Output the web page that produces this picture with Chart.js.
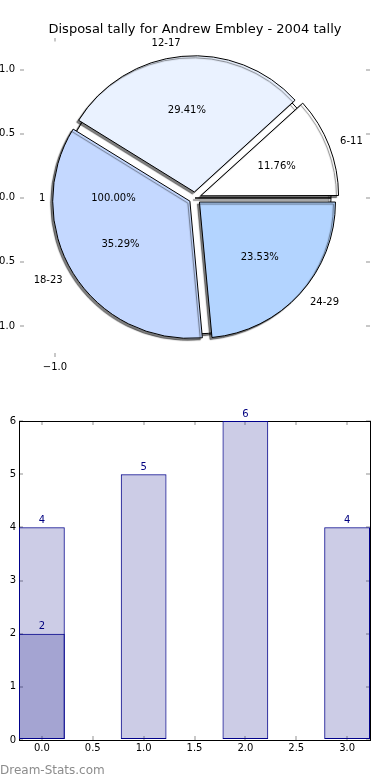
<!DOCTYPE html>
<html>
<head>
<meta charset="utf-8">
<script src="https://cdn.jsdelivr.net/npm/chart.js@4.4.1/dist/chart.umd.min.js"></script>
<style>
  html, body { margin: 0; padding: 0; background: #fff; overflow: hidden; }
  #wrap { position: relative; width: 390px; height: 780px; overflow: hidden; }
  canvas { position: absolute; }
  #mark { position: absolute; left: 0; top: 763px; font: 12px "DejaVu Sans", sans-serif; color: #8c8c8c; line-height: 14px; }
</style>
</head>
<body>
<div id="wrap">
  <canvas id="pieAxes" width="414" height="390" style="left:-12px;top:0"></canvas>
  <canvas id="pieBase" width="390" height="390" style="left:0;top:0"></canvas>
  <canvas id="pieFront" width="390" height="390" style="left:0;top:0"></canvas>
  <canvas id="bars" width="390" height="390" style="left:0;top:390px"></canvas>
  <div id="mark">Dream-Stats.com</div>
</div>
<script>
// pie data (matplotlib order, counter-clockwise from 3 o'clock)
var pieTitle = 'Disposal tally for Andrew Embley - 2004 tally';
var pieLabels = ['6-11', '12-17', '18-23', '24-29'];
var pieCounts = [2, 5, 6, 4];
var baseLabels = ['1'];
var baseCounts = [1];
var pieYTicks = [1.0, 0.5, 0.0, -0.5, -1.0];
var pieXTicks = [-1.0];

// bar data
var barX = [0, 1, 2, 3];
var barTotals = [4, 5, 6, 4];
var barX2 = [0];
var barFirst = [2];
var barXTicks = [0, 0.5, 1, 1.5, 2, 2.5, 3];
var barYTicks = [0, 1, 2, 3, 4, 5, 6];

var pieColors = ['#ffffff', '#eaf2ff', '#c4d8ff', '#b3d4ff'];
var tickGrey = '#c8c8c8';

Chart.defaults.font.family = '"DejaVu Sans", sans-serif';
Chart.defaults.font.size = 10;
Chart.defaults.color = '#000';

function fmt(v) {
    return Number(v).toFixed(1).replace('-', '\u2212');
}
function fixTicks(list) {
    return function (axis) { axis.ticks = list.map(function (v) { return {value: v}; }); };
}
function tickGrid() {
    return {drawOnChartArea: false, tickLength: -4, color: tickGrey, lineWidth: 2, offset: false};
}

// --- axes behind the pie (matplotlib leaves them on) ---
new Chart(document.getElementById('pieAxes'), {
    type: 'scatter',
    data: {datasets: []},
    options: {
        responsive: false, animation: false, events: [],
        layout: {padding: 0},
        plugins: {
            legend: {display: false}, tooltip: {enabled: false},
            title: {display: true, text: pieTitle, color: '#000',
                font: {size: 13, weight: 'normal'}, padding: {top: 22, bottom: 0}}
        },
        scales: {
            x: {type: 'linear', position: 'bottom', min: -1.25, max: 1.25,
                afterBuildTicks: fixTicks(pieXTicks), afterFit: function (s) { s.height = 33; },
                ticks: {callback: fmt, padding: 8, autoSkip: false, maxRotation: 0},
                grid: tickGrid(), border: {display: false}},
            x2: {type: 'linear', position: 'top', min: -1.25, max: 1.25,
                afterBuildTicks: fixTicks(pieXTicks), afterFit: function (s) { s.height = 0; },
                ticks: {display: false}, grid: tickGrid(), border: {display: false}},
            y: {type: 'linear', position: 'left', min: -1.242, max: 1.25,
                afterBuildTicks: fixTicks(pieYTicks), afterFit: function (s) { s.width = 32; },
                ticks: {callback: fmt, padding: 9, autoSkip: false},
                grid: tickGrid(), border: {display: false}},
            y2: {type: 'linear', position: 'right', min: -1.242, max: 1.25,
                afterBuildTicks: fixTicks(pieYTicks), afterFit: function (s) { s.width = 32; },
                ticks: {display: false}, grid: tickGrid(), border: {display: false}}
        }
    }
});

var shadow = {
    id: 'shadow',
    beforeDatasetsDraw: function (chart) {
        var ctx = chart.ctx;
        ctx.save();
        ctx.shadowColor = 'rgba(0,0,0,0.5)';
        ctx.shadowOffsetX = -2;
        ctx.shadowOffsetY = 2;
        ctx.shadowBlur = 1;
    },
    afterDatasetsDraw: function (chart) { chart.ctx.restore(); }
};

function pieOptions() {
    return {
        responsive: false, animation: false, events: [],
        rotation: 90, radius: 136,
        layout: {padding: {top: 6}},
        plugins: {legend: {display: false}, tooltip: {enabled: false}}
    };
}

var baseChart = new Chart(document.getElementById('pieBase'), {
    type: 'pie',
    data: {labels: baseLabels, datasets: [{data: baseCounts, backgroundColor: '#ffffff',
        borderColor: '#000', borderWidth: 1}]},
    options: pieOptions(),
    plugins: [shadow]
});

// labels of both pies sit above all wedges
function drawPieText(chart, ctx) {
    var meta = chart.getDatasetMeta(0);
    var vals = chart.data.datasets[0].data;
    var total = vals.reduce(function (a, b) { return a + b; }, 0);
    meta.data.forEach(function (arc, i) {
        var p = arc.getProps(['x', 'y', 'startAngle', 'endAngle', 'outerRadius']);
        var mid = (p.startAngle + p.endAngle) / 2;
        var c = Math.cos(mid), s = Math.sin(mid);
        var shift = (arc.options.offset || 0) / 4;
        var cx = p.x + c * shift, cy = p.y + s * shift;
        ctx.textAlign = c > 1e-6 ? 'left' : 'right';
        ctx.fillText(chart.data.labels[i], cx + c * p.outerRadius * 1.1, cy + s * p.outerRadius * 1.1);
        ctx.textAlign = 'center';
        ctx.fillText((vals[i] / total * 100).toFixed(2) + '%', cx + c * p.outerRadius * 0.6, cy + s * p.outerRadius * 0.6);
    });
}

var pieText = {
    id: 'pieText',
    afterDraw: function (chart) {
        var ctx = chart.ctx;
        ctx.save();
        ctx.font = '10px "DejaVu Sans"';
        ctx.fillStyle = '#000';
        ctx.textBaseline = 'middle';
        drawPieText(baseChart, ctx);
        drawPieText(chart, ctx);
        ctx.restore();
    }
};

// Chart.js goes clockwise, so feed the slices in reverse
new Chart(document.getElementById('pieFront'), {
    type: 'pie',
    data: {
        labels: pieLabels.slice().reverse(),
        datasets: [{
            data: pieCounts.slice().reverse(),
            backgroundColor: pieColors.slice().reverse(),
            borderColor: '#000', borderWidth: 1, offset: 24
        }]
    },
    options: pieOptions(),
    plugins: [shadow, pieText]
});

// --- bar chart ---
var barValues = {
    id: 'barValues',
    afterDatasetsDraw: function (chart) {
        var ctx = chart.ctx;
        ctx.save();
        ctx.font = '10px "DejaVu Sans"';
        ctx.fillStyle = '#000080';
        ctx.textAlign = 'center';
        ctx.textBaseline = 'bottom';
        chart.data.datasets.forEach(function (ds, d) {
            chart.getDatasetMeta(d).data.forEach(function (bar, i) {
                ctx.fillText(String(ds.data[i].y), bar.x, bar.y - 2);
            });
        });
        ctx.restore();
    }
};

function pts(xs, ys) {
    return xs.map(function (x, i) { return {x: x, y: ys[i]}; });
}

// tick spacing is 0.5, so barPercentage 0.9 gives a 0.45 wide bar
new Chart(document.getElementById('bars'), {
    type: 'bar',
    data: {
        datasets: [
            {data: pts(barX, barTotals), backgroundColor: 'rgba(0,0,128,0.2)', borderColor: '#00008b',
                borderWidth: 1, borderSkipped: false, grouped: false, categoryPercentage: 1, barPercentage: 0.9},
            {data: pts(barX2, barFirst), backgroundColor: 'rgba(0,0,128,0.2)', borderColor: '#00008b',
                borderWidth: 1, borderSkipped: false, grouped: false, categoryPercentage: 1, barPercentage: 0.9}
        ]
    },
    options: {
        responsive: false, animation: false, events: [],
        layout: {padding: {top: 31, right: 20}},
        plugins: {legend: {display: false}, tooltip: {enabled: false}},
        scales: {
            x: {type: 'linear', position: 'bottom', min: -0.225, max: 3.225, offset: false,
                afterBuildTicks: fixTicks(barXTicks), afterFit: function (s) { s.height = 40; },
                ticks: {callback: function (v) { return Number(v).toFixed(1); }, padding: 6, autoSkip: false, maxRotation: 0},
                grid: tickGrid(), border: {display: true, color: '#000', width: 1}},
            x2: {type: 'linear', position: 'top', min: -0.225, max: 3.225, offset: false,
                afterBuildTicks: fixTicks(barXTicks), afterFit: function (s) { s.height = 0; },
                ticks: {display: false}, grid: tickGrid(), border: {display: true, color: '#000', width: 1}},
            y: {type: 'linear', position: 'left', min: 0, max: 6,
                afterBuildTicks: fixTicks(barYTicks), afterFit: function (s) { s.width = 19; },
                ticks: {padding: 7, autoSkip: false},
                grid: tickGrid(), border: {display: true, color: '#000', width: 1}},
            y2: {type: 'linear', position: 'right', min: 0, max: 6,
                afterBuildTicks: fixTicks(barYTicks), afterFit: function (s) { s.width = 0; },
                ticks: {display: false}, grid: tickGrid(), border: {display: true, color: '#000', width: 1}}
        }
    },
    plugins: [barValues]
});
</script>
</body>
</html>
